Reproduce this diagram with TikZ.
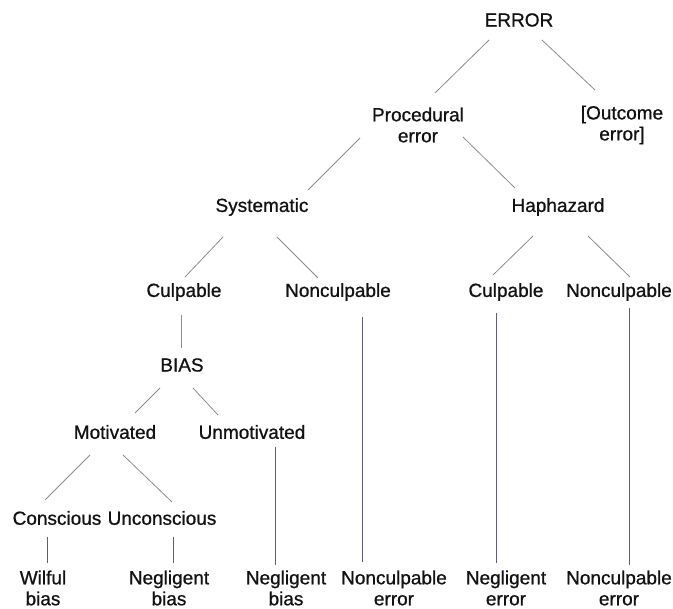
\documentclass[tikz,border=0pt]{standalone}
\usepackage{fontspec}
\setmainfont{Liberation Sans}
\newfontfamily\lblfont[FakeBold=0.8]{Liberation Sans}
\usetikzlibrary{calc}
\definecolor{branchgray}{RGB}{140,140,140}
\definecolor{stemblue}{RGB}{92,92,125}
\definecolor{labelink}{RGB}{18,18,18}
\begin{document}
\begin{tikzpicture}[x=1pt,y=-1pt,
  lbl/.style={inner sep=0pt,align=center,text=labelink,
    font=\lblfont\fontsize{19}{21}\selectfont},
  branch/.style={draw=branchgray,line width=0.8pt},
  stem/.style={draw=stemblue,line width=0.9pt}]
\useasboundingbox[fill=white] (0,0) rectangle (673,609);

% top levels
\node[lbl] (err)  at (519,20)  {ERROR};
\node[lbl] (proc) at (418,125) {Procedural\\error};
\node[lbl] (outc) at (622,125) {[Outcome\\error]};
\node[lbl] (sys)  at (262,207) {Systematic};
\node[lbl] (haph) at (558,207) {Haphazard};

% culpability row
\node[lbl] (culA)    at (184,292) {Culpable};
\node[lbl] (nonculA) at (338,292) {Nonculpable};
\node[lbl] (culB)    at (506,292) {Culpable};
\node[lbl] (nonculB) at (619,292) {Nonculpable};

% bias subtree
\node[lbl] (bias)   at (182,365) {BIAS};
\node[lbl] (mot)    at (115,432) {Motivated};
\node[lbl] (unmot)  at (252,432) {Unmotivated};
\node[lbl] (cons)   at (57,518)  {Conscious};
\node[lbl] (uncons) at (162,518) {Unconscious};

% leaves
\node[lbl] (wilful) at (43,588)  {Wilful\\bias};
\node[lbl] (negbA)  at (169,588) {Negligent\\bias};
\node[lbl] (negbB)  at (286,588) {Negligent\\bias};
\node[lbl] (ncerrA) at (394,588) {Nonculpable\\error};
\node[lbl] (negerr) at (506,588) {Negligent\\error};
\node[lbl] (ncerrB) at (619,588) {Nonculpable\\error};

% diagonal branches
\draw[branch] ($(err)+(-30,20)$)  -- ($(proc)+(17,-32)$);
\draw[branch] ($(err)+(23,20)$)   -- ($(outc)+(-27,-35)$);
\draw[branch] ($(proc)+(-58,13)$) -- ($(sys)+(46,-17)$);
\draw[branch] ($(proc)+(45,12)$)  -- ($(haph)+(-43,-19)$);
\draw[branch] ($(sys)+(-39,30)$)  -- ($(culA)+(1,-15)$);
\draw[branch] ($(sys)+(15,30)$)   -- ($(nonculA)+(-20,-14)$);
\draw[branch] ($(haph)+(-25,29)$) -- ($(culB)+(-13,-17)$);
\draw[branch] ($(haph)+(30,29)$)  -- ($(nonculB)+(11,-15)$);
\draw[branch] ($(culA)+(-3,23)$)  -- ($(bias)+(-1,-17)$);
\draw[branch] ($(bias)+(-22,23)$) -- ($(mot)+(20,-19)$);
\draw[branch] ($(bias)+(11,23)$)  -- ($(unmot)+(-34,-17)$);
\draw[branch] ($(mot)+(-25,23)$)  -- ($(cons)+(-12,-18)$);
\draw[branch] ($(mot)+(8,23)$)    -- ($(uncons)+(10,-16)$);

% vertical stems to the leaves
\draw[stem] ($(cons)+(-10,19)$)    -- ($(wilful)+(4,-25)$);
\draw[stem] ($(uncons)+(11,19)$)   -- ($(negbA)+(4,-25)$);
\draw[stem] ($(unmot)+(23,15)$)    -- ($(negbB)+(-11,-23)$);
\draw[stem] ($(nonculA)+(24,25)$)  -- ($(ncerrA)+(-32,-26)$);
\draw[stem] ($(culB)+(-10,21)$)    -- ($(negerr)+(-10,-25)$);
\draw[stem] ($(nonculB)+(10,16)$)  -- ($(ncerrB)+(10,-23)$);
\end{tikzpicture}
\end{document}
